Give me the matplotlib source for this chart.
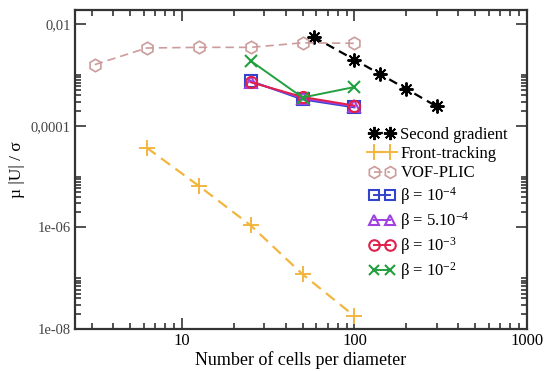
import matplotlib
matplotlib.use("Agg")
import matplotlib.pyplot as plt
import numpy as np
from matplotlib.ticker import FixedLocator, NullFormatter, FixedFormatter

plt.rcParams['font.family'] = ['Liberation Serif', 'DejaVu Serif']
plt.rcParams['mathtext.fontset'] = 'custom'
plt.rcParams['mathtext.rm'] = 'Liberation Serif'
plt.rcParams['mathtext.it'] = 'Liberation Serif:italic'

# Second gradient method
sg_x = [58, 100, 140, 200, 300]
sg_y = [5.6e-3, 2.0e-3, 1.05e-3, 5.3e-4, 2.4e-4]

# Front-tracking
ft_x = [6.25, 12.5, 25, 50, 100]
ft_y = [3.7e-5, 6.6e-6, 1.1e-6, 1.2e-7, 1.8e-8]

# VOF-PLIC
vof_x = [3.125, 6.25, 12.5, 25, 50, 100]
vof_y = [1.6e-3, 3.4e-3, 3.5e-3, 3.5e-3, 4.3e-3, 4.2e-3]

# Penalisation coefficient runs
beta_x = [25, 50, 100]
beta_1e4 = [7.6e-4, 3.3e-4, 2.3e-4]
beta_5e4 = [7.4e-4, 3.5e-4, 2.4e-4]
beta_1e3 = [7.2e-4, 3.7e-4, 2.5e-4]
beta_1e2 = [1.9e-3, 3.6e-4, 5.8e-4]

fig = plt.figure(figsize=(5.5, 3.71), dpi=100)
ax = fig.add_axes([0.1364, 0.113, 0.8218, 0.86])

ax.plot(sg_x, sg_y, color='black', ls=(0, (4, 2.5)), lw=1.6,
        marker=(8, 2, 0), ms=10, mew=1.4, label='Second gradient')
ax.plot(ft_x, ft_y, color='#f2b640', ls=(0, (5, 3)), lw=1.6,
        marker='+', ms=12, mew=1.4, label='Front-tracking')
ax.plot(vof_x, vof_y, color='#cc9c9c', ls=(0, (5, 3)), lw=1.2,
        marker='h', ms=9, mfc='none', mew=1.2, label='VOF-PLIC')
ax.plot(beta_x, beta_1e4, color='#3344cc', lw=1.4, marker='s', ms=8,
        mfc='none', mew=1.5, label=r'β = 10$^{-4}$')
ax.plot(beta_x, beta_5e4, color='#a040e0', lw=1.4, marker='^', ms=8,
        mfc='none', mew=1.5, label=r'β = 5.10$^{-4}$')
ax.plot(beta_x, beta_1e3, color='#e0204a', lw=1.4, marker='o', ms=8,
        mfc='none', mew=1.5, label=r'β = 10$^{-3}$')
ax.plot(beta_x, beta_1e2, color='#22a040', lw=1.4, marker='x', ms=8,
        mew=1.5, label=r'β = 10$^{-2}$')

ax.set_xscale('log')
ax.set_yscale('log')
ax.set_xlim(2.4, 1000)
ax.set_ylim(1e-8, 0.019)

# x ticks
ax.xaxis.set_major_locator(FixedLocator([10, 100, 1000]))
ax.xaxis.set_major_formatter(FixedFormatter(['10', '100', '1000']))
xminor = [k * 10.0**e for e in (0, 1, 2) for k in range(2, 10)]
ax.xaxis.set_minor_locator(FixedLocator(xminor))
ax.xaxis.set_minor_formatter(NullFormatter())

# y ticks
ax.yaxis.set_major_locator(FixedLocator([1e-8, 1e-6, 1e-4, 1e-2]))
ax.yaxis.set_major_formatter(FixedFormatter(['1e-08', '1e-06', '0,0001', '0,01']))
yminor = [k * 10.0**e for e in (-8, -6, -4) for k in range(2, 11)]
ax.yaxis.set_minor_locator(FixedLocator(yminor))
ax.yaxis.set_minor_formatter(NullFormatter())

ax.tick_params(which='both', direction='in', top=True, right=True,
               width=1.2, color='#333333')
ax.tick_params(which='major', length=8, pad=3)
ax.tick_params(which='minor', length=4)
ax.tick_params(axis='y', labelsize=10.5, labelcolor='#444444')
ax.tick_params(axis='x', labelsize=12)
for s in ax.spines.values():
    s.set_linewidth(1.6)
    s.set_color('#333333')

ax.set_xlabel('Number of cells per diameter', fontsize=13, labelpad=1)
ax.set_ylabel('µ |U| / σ', fontsize=12.5, labelpad=4)

ax.legend(loc='upper left', bbox_to_anchor=(0.635, 0.655), frameon=False,
          numpoints=2, handlelength=1.6, handletextpad=0.3,
          labelspacing=0.2, fontsize=12, markerscale=0.95, borderaxespad=0)

fig.savefig('out.png', dpi=100)
